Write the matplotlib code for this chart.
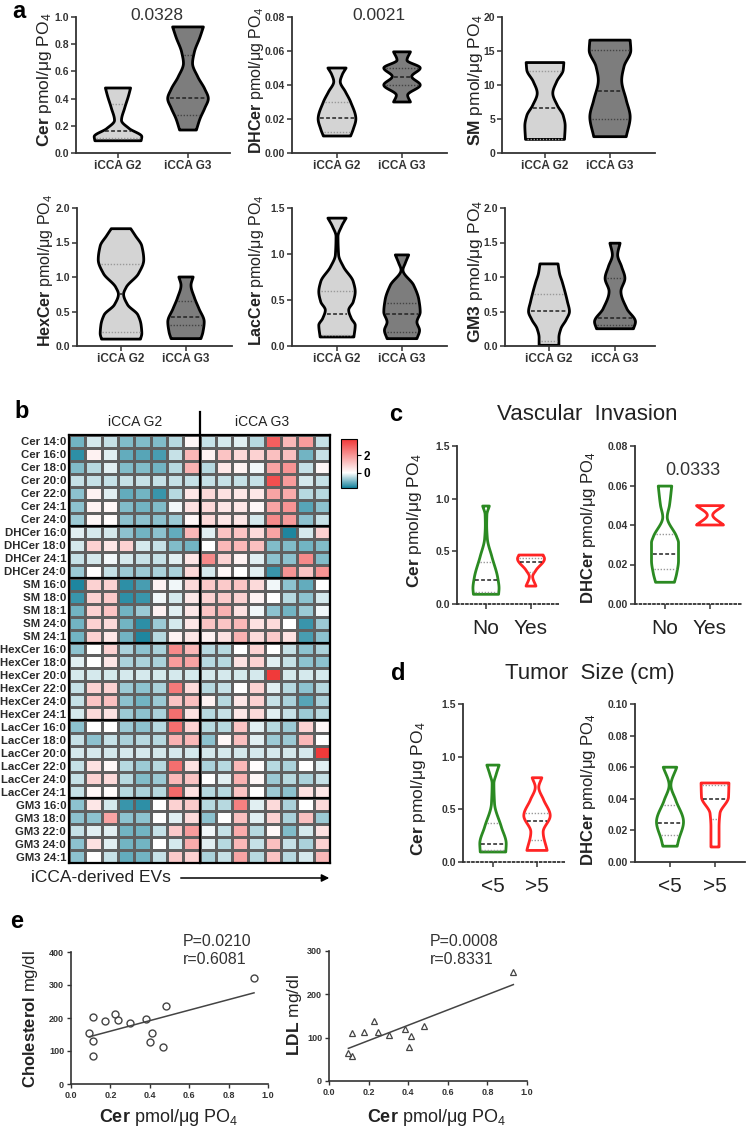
import numpy as np
import matplotlib
matplotlib.use("Agg")
import matplotlib.pyplot as plt
from matplotlib.colors import LinearSegmentedColormap, Normalize

plt.rcParams['font.family'] = ['Liberation Sans', 'DejaVu Sans']
plt.rcParams['mathtext.fontset'] = 'custom'
plt.rcParams['mathtext.rm'] = 'Liberation Sans'
plt.rcParams['mathtext.it'] = 'Liberation Sans:italic'
plt.rcParams['mathtext.bf'] = 'Liberation Sans:bold'

# ---------------- data ----------------
groups_a = ['iCCA G2', 'iCCA G3']
groups_vi = ['No', 'Yes']
groups_ts = ['<5', '>5']

# violin outlines: y levels and half widths (category units), lines = [median, q1, q3]
cer_g2_y = [0.478, 0.42, 0.33, 0.24, 0.18, 0.12, 0.09]
cer_g2_w = [0.18, 0.15, 0.095, 0.05, 0.16, 0.34, 0.33]
cer_g2_q = [0.164, 0.108, 0.357]
cer_g3_y = [0.927, 0.85, 0.74, 0.66, 0.56, 0.47, 0.40, 0.33, 0.25, 0.169]
cer_g3_w = [0.22, 0.17, 0.09, 0.065, 0.14, 0.24, 0.29, 0.24, 0.17, 0.12]
cer_g3_q = [0.401, 0.279, 0.72]

dhcer_g2_y = [0.050, 0.046, 0.042, 0.036, 0.030, 0.020, 0.014, 0.010]
dhcer_g2_w = [0.14, 0.08, 0.05, 0.13, 0.21, 0.29, 0.25, 0.21]
dhcer_g2_q = [0.0203, 0.0125, 0.0301]
dhcer_g3_y = [0.0595, 0.0546, 0.050, 0.045, 0.040, 0.034, 0.030]
dhcer_g3_w = [0.13, 0.077, 0.28, 0.15, 0.28, 0.087, 0.13]
dhcer_g3_q = [0.045, 0.040, 0.050]

sm_g2_y = [13.3, 12.2, 10.5, 8.8, 7.0, 5.5, 4.0, 2.0]
sm_g2_w = [0.29, 0.28, 0.18, 0.12, 0.19, 0.28, 0.31, 0.30]
sm_g2_q = [6.65, 2.1, 12.1]
sm_g3_y = [16.6, 15.1, 12.7, 10.7, 7.8, 5.3, 2.4]
sm_g3_w = [0.31, 0.32, 0.215, 0.18, 0.25, 0.31, 0.25]
sm_g3_q = [9.14, 4.99, 15.1]

hex_g2_y = [1.70, 1.60, 1.45, 1.25, 1.05, 0.85, 0.75, 0.60, 0.45, 0.30, 0.18, 0.10]
hex_g2_w = [0.15, 0.22, 0.32, 0.35, 0.27, 0.08, 0.04, 0.10, 0.26, 0.31, 0.32, 0.30]
hex_g2_q = [0.75, 0.204, 1.19]
hex_g3_y = [1.0, 0.88, 0.70, 0.54, 0.35, 0.20, 0.107]
hex_g3_w = [0.11, 0.077, 0.13, 0.20, 0.28, 0.26, 0.23]
hex_g3_q = [0.417, 0.30, 0.65]

lac_g2_y = [1.39, 1.30, 1.19, 0.99, 0.86, 0.70, 0.59, 0.48, 0.39, 0.30, 0.226, 0.098]
lac_g2_w = [0.14, 0.07, 0.015, 0.025, 0.10, 0.25, 0.28, 0.25, 0.18, 0.22, 0.28, 0.26]
lac_g2_q = [0.353, 0.116, 0.597]
lac_g3_y = [0.99, 0.90, 0.826, 0.66, 0.50, 0.37, 0.26, 0.17, 0.08]
lac_g3_w = [0.103, 0.05, 0.015, 0.18, 0.26, 0.28, 0.23, 0.27, 0.23]
lac_g3_q = [0.353, 0.153, 0.47]

gm3_g2_y = [1.19, 1.05, 0.93, 0.64, 0.50, 0.38, 0.25, 0.12, 0.01]
gm3_g2_w = [0.137, 0.16, 0.20, 0.28, 0.31, 0.26, 0.18, 0.15, 0.15]
gm3_g2_q = [0.505, 0.07, 0.75]
gm3_g3_y = [1.49, 1.32, 1.15, 0.98, 0.79, 0.54, 0.35, 0.25]
gm3_g3_w = [0.077, 0.04, 0.10, 0.15, 0.09, 0.18, 0.31, 0.28]
gm3_g3_q = [0.408, 0.30, 0.98]

vi_cer_no_y = [0.93, 0.85, 0.75, 0.62, 0.45, 0.25, 0.15, 0.092]
vi_cer_no_w = [0.074, 0.02, 0.015, 0.03, 0.13, 0.26, 0.29, 0.28]
vi_cer_no_q = [0.228, 0.11, 0.40]
vi_cer_yes_y = [0.465, 0.43, 0.32, 0.26, 0.17]
vi_cer_yes_w = [0.27, 0.30, 0.11, 0.037, 0.11]
vi_cer_yes_q = [0.40, 0.30, 0.44]
vi_dh_no_y = [0.0597, 0.050, 0.044, 0.034, 0.031, 0.022, 0.0155, 0.011]
vi_dh_no_w = [0.15, 0.10, 0.05, 0.26, 0.30, 0.30, 0.26, 0.21]
vi_dh_no_q = [0.0251, 0.0175, 0.0353]
vi_dh_yes_y = [0.0498, 0.045, 0.040]
vi_dh_yes_w = [0.30, 0.06, 0.30]
vi_dh_yes_q = []

ts_cer_lt_y = [0.92, 0.83, 0.745, 0.555, 0.333, 0.174, 0.095]
ts_cer_lt_w = [0.14, 0.07, 0.02, 0.035, 0.19, 0.30, 0.29]
ts_cer_lt_q = [0.174, 0.11, 0.37]
ts_cer_gt_y = [0.80, 0.71, 0.59, 0.44, 0.285, 0.11]
ts_cer_gt_w = [0.11, 0.04, 0.15, 0.30, 0.14, 0.23]
ts_cer_gt_q = [0.39, 0.206, 0.466]
ts_dh_lt_y = [0.060, 0.0486, 0.039, 0.0254, 0.0137, 0.010]
ts_dh_lt_w = [0.15, 0.02, 0.13, 0.30, 0.19, 0.16]
ts_dh_lt_q = [0.025, 0.017, 0.036]
ts_dh_gt_y = [0.050, 0.041, 0.0307, 0.022, 0.0095]
ts_dh_gt_w = [0.31, 0.30, 0.11, 0.09, 0.09]
ts_dh_gt_q = [0.040, 0.027, 0.049]

# heatmap (z-scores)
heat_rows = ['Cer 14:0', 'Cer 16:0', 'Cer 18:0', 'Cer 20:0', 'Cer 22:0', 'Cer 24:1', 'Cer 24:0',
             'DHCer 16:0', 'DHCer 18:0', 'DHCer 24:1', 'DHCer 24:0',
             'SM 16:0', 'SM 18:0', 'SM 18:1', 'SM 24:0', 'SM 24:1',
             'HexCer 16:0', 'HexCer 18:0', 'HexCer 20:0', 'HexCer 22:0', 'HexCer 24:0', 'HexCer 24:1',
             'LacCer 16:0', 'LacCer 18:0', 'LacCer 20:0', 'LacCer 22:0', 'LacCer 24:0', 'LacCer 24:1',
             'GM3 16:0', 'GM3 18:0', 'GM3 22:0', 'GM3 24:0', 'GM3 24:1']
heat_group_breaks = [7, 11, 16, 22, 28]
heat_values = [
    [-1.0, -0.3, -0.4, -0.9, -0.9, -0.9, -0.5, 0.15, -0.4, -0.3, -0.2, -0.5, 3.0, 1.35, 1.85, -0.4],
    [-1.5, 0.25, -0.2, -1.1, -1.2, -1.3, -0.4, 1.35, 0.25, 1.1, 0.7, 0.85, 1.2, 1.2, -1.0, -0.4],
    [-0.9, -0.5, -0.2, -0.9, -0.9, -1.0, -0.5, 1.45, -0.5, 0.45, 0.25, -0.1, 1.7, 2.0, -0.4, 0.15],
    [-0.4, -0.4, -0.4, -0.4, -0.4, -0.4, -0.4, -0.4, -0.4, -0.4, -0.4, -0.4, 3.3, 1.85, -0.3, -0.4],
    [-0.8, 0.25, -0.2, -1.1, -1.0, -1.4, -0.5, 0.45, 0.7, 0.55, 0.45, 0.45, 1.7, 1.55, -0.5, -0.5],
    [-0.8, 0.25, 0.15, -0.9, -1.0, -0.9, -0.1, 0.55, 0.7, 0.45, 0.45, 0.15, 1.7, 2.0, -1.2, -0.8],
    [-0.7, 0.15, 0.05, -0.8, -0.8, -0.8, -0.7, 0.15, 0.7, 0.45, 0.45, -0.3, 2.2, 1.85, -0.8, -0.4],
    [-0.2, -0.3, -0.3, -0.8, -1.0, -0.8, -1.1, 1.35, -0.2, 1.1, 1.1, 0.7, 1.7, -1.6, -0.3, 0.85],
    [-0.3, 0.85, 0.45, 0.85, -0.3, -0.4, -0.9, -1.0, 0.0, 1.35, 1.35, 1.2, -0.9, -0.9, -1.0, -0.9],
    [-0.4, -0.3, -0.1, -0.3, -0.4, -0.4, -0.2, 0.45, 2.2, 0.85, 0.25, -0.2, -0.8, -0.8, 2.2, -0.9],
    [-0.7, 0.0, -0.4, -0.7, -0.7, -0.6, -0.6, 0.7, -0.3, 0.15, 0.0, -0.2, -1.4, 2.0, 1.1, 2.0],
    [-1.6, 0.85, 0.85, -1.5, -1.3, 0.25, -0.1, 0.7, 1.0, 1.0, 1.1, 0.7, -0.1, -0.8, -1.1, 0.0],
    [-1.4, 0.85, 1.0, -1.5, -1.4, -0.1, -0.3, 0.45, 0.85, 1.0, 0.85, 0.25, 0.0, -0.5, -0.8, -0.3],
    [-1.0, 0.85, 1.1, -1.0, -0.7, 0.25, -0.2, 0.45, 1.1, 1.45, 0.55, -0.1, -0.8, -1.0, -0.7, -0.1],
    [-1.0, 0.85, 0.7, -1.0, -1.5, -0.7, -0.3, 0.45, 1.1, 1.1, 1.35, 0.55, 0.7, 0.0, -1.4, -0.7],
    [-1.0, 0.85, 0.45, -1.0, -1.6, -0.5, 0.25, 0.45, 0.25, 0.55, 1.45, 0.7, 1.0, 0.55, -1.3, -0.8],
    [-0.8, 0.0, 0.85, -0.6, -0.8, -0.6, 2.2, 1.35, -0.5, -0.5, 0.0, 0.85, 0.0, -0.4, -0.8, -0.6],
    [-0.2, 0.0, 0.45, -0.6, -0.6, -0.6, 1.85, 1.7, -0.5, -0.5, 0.55, 0.85, -0.2, -0.4, -0.8, -0.8],
    [-0.3, -0.3, -0.3, -0.3, -0.3, -0.3, -0.3, -0.3, -0.3, -0.3, -0.3, -0.3, 3.7, -0.3, -0.3, -0.3],
    [-0.4, 0.85, 0.85, -0.7, -0.8, -0.6, 2.5, 0.7, -0.5, -0.4, 0.0, 0.85, -0.2, -0.5, -0.8, -0.5],
    [-0.4, 1.1, 1.2, -0.8, -1.0, -0.7, 1.1, 1.2, 0.25, -0.5, 0.45, 0.85, -0.4, -0.6, -1.2, -0.6],
    [-0.3, 0.7, 0.55, -0.7, -0.8, -0.6, 2.7, 0.55, -0.5, -0.4, 0.45, 0.7, -0.2, -0.4, -0.7, -0.5],
    [-0.8, 0.0, 0.0, -0.7, -0.8, -0.5, 2.7, 0.85, -0.5, -0.5, 1.1, -0.2, -0.5, -0.7, 0.85, 0.15],
    [-0.4, -0.8, -0.4, -0.6, -0.5, -0.5, 1.45, 1.35, -0.8, 0.15, 1.2, -0.2, -0.7, -0.7, 1.35, 0.0],
    [-0.3, -0.3, -0.3, -0.3, -0.3, -0.3, -0.3, -0.3, -0.3, -0.3, -0.3, -0.3, -0.3, -0.3, -0.3, 3.7],
    [-0.4, 0.55, 0.15, -0.5, -0.7, -0.5, 2.7, 0.55, -0.6, -0.5, 1.35, 0.05, -0.5, -0.6, 0.0, -0.2],
    [-0.4, 0.85, 0.7, -0.5, -0.9, -0.7, 1.35, 1.1, 0.0, -0.2, 1.45, 0.15, -0.7, -0.5, -0.6, -0.4],
    [-0.4, 0.15, 0.05, -0.5, -0.6, -0.5, 2.8, 0.55, -0.5, -0.5, 1.1, 0.0, -0.7, -0.8, 0.55, 0.45],
    [-0.8, 0.45, -0.3, -1.4, -1.5, 0.0, 0.85, 1.0, -0.5, -0.5, 2.4, -0.2, 0.7, -0.6, 0.0, 0.7],
    [-0.8, -0.8, 1.7, -0.8, -0.8, 0.0, -0.2, 0.7, -0.8, 0.0, 1.2, -0.2, 0.85, -0.6, 1.2, -0.7],
    [-0.4, -0.2, -0.2, -1.0, -1.0, -0.4, 1.0, 1.85, -0.1, -0.4, 1.55, -0.5, 0.15, -0.9, -0.3, 0.55],
    [-0.8, 0.55, -0.2, -1.0, -1.0, 0.0, -0.3, 1.55, -0.2, -0.5, 1.35, -0.4, 1.2, -0.4, -0.6, 0.85],
    [-0.8, 0.0, -0.4, -1.1, -1.0, -0.4, 1.0, 0.85, -0.6, -0.4, 1.7, -0.5, 1.1, -0.5, -0.3, 1.35],
]
heat_vmin, heat_vmax = -1.7, 3.8

# correlations
chol_x = [0.093, 0.113, 0.113, 0.113, 0.172, 0.223, 0.240, 0.302, 0.380, 0.412, 0.400, 0.468, 0.480, 0.929]
chol_y = [155, 202, 131, 84, 192, 213, 193, 184, 198, 155, 127, 112, 236, 321]
ldl_x = [0.098, 0.118, 0.115, 0.177, 0.227, 0.246, 0.305, 0.384, 0.414, 0.404, 0.481, 0.931]
ldl_y = [65, 58, 110, 112, 139, 112, 107, 121, 104, 79, 127, 251]

# ---------------- helpers ----------------
W, H = 749, 1132
fig = plt.figure(figsize=(W / 100, H / 100), dpi=100)
TXT = '#333333'
GREEN, RED = '#2b8a22', '#ff2424'


def px_axes(l, r, t, b):
    return fig.add_axes([l / W, 1 - b / H, (r - l) / W, (b - t) / H])


def ftext(x, y, s, **kw):
    fig.text(x / W, 1 - y / H, s, **kw)


def pchip(xk, yk, x):
    # monotone cubic through the outline knots (rounded bulges and necks)
    h = np.diff(xk)
    d = np.diff(yk) / h
    m = np.zeros_like(yk)
    m[0], m[-1] = d[0], d[-1]
    for i in range(1, len(xk) - 1):
        if d[i - 1] * d[i] > 0:
            w1 = 2 * h[i] + h[i - 1]
            w2 = h[i] + 2 * h[i - 1]
            m[i] = (w1 + w2) / (w1 / d[i - 1] + w2 / d[i])
    idx = np.clip(np.searchsorted(xk, x) - 1, 0, len(xk) - 2)
    t = (x - xk[idx]) / h[idx]
    h00 = 2 * t ** 3 - 3 * t ** 2 + 1
    h10 = t ** 3 - 2 * t ** 2 + t
    h01 = -2 * t ** 3 + 3 * t ** 2
    h11 = t ** 3 - t ** 2
    return h00 * yk[idx] + h10 * h[idx] * m[idx] + h01 * yk[idx + 1] + h11 * h[idx] * m[idx + 1]


def draw_violin(ax, pos, ys, ws, q, face, edge, lw=2.0, medc='#222222', qc='#9a9a9a'):
    ys = np.asarray(ys, float)
    ws = np.asarray(ws, float)
    o = np.argsort(ys)
    yy = np.linspace(ys.min(), ys.max(), 400)
    ww = np.clip(pchip(ys[o], ws[o], yy), 0.008, None)
    x = np.concatenate([pos - ww, (pos + ww)[::-1]])
    y = np.concatenate([yy, yy[::-1]])
    ax.fill(x, y, facecolor=face, edgecolor=edge, lw=lw, joinstyle='round', zorder=2)
    for i, v in enumerate(q):
        w = max(np.interp(v, yy, ww) - 0.03, 0)
        if i == 0:
            ax.plot([pos - w, pos + w], [v, v], ls=(0, (2.5, 1.5)), color=medc, lw=1.1, zorder=3)
        else:
            ax.plot([pos - w, pos + w], [v, v], ls=(0, (1, 1.2)), color=qc, lw=1.0, zorder=3)


def violin_axes(box, ylim, yticks, fmt, xlabels, xfs, xbold, dotted=False):
    l, r, t, b, t0, t1 = box
    ax = px_axes(l, r, t, b)
    sc = t1 - t0
    ax.set_xlim((l - t0) / sc, (r - t0) / sc)
    ax.set_ylim(*ylim)
    for sp in ['top', 'right']:
        ax.spines[sp].set_visible(False)
    for sp in ['left', 'bottom']:
        ax.spines[sp].set_color(TXT)
        ax.spines[sp].set_linewidth(1.3)
    if dotted:
        ax.spines['bottom'].set_linestyle((0, (1, 1.5)))
    ax.set_yticks(yticks)
    ax.set_yticklabels([fmt.format(v) for v in yticks])
    ax.set_xticks([0, 1])
    ax.set_xticklabels(xlabels)
    ax.tick_params(axis='y', length=3.5, width=1.1, color=TXT, labelsize=7.5, pad=1.5, labelcolor=TXT)
    ax.tick_params(axis='x', length=3.5, width=1.1, color=TXT, labelsize=xfs, pad=1.5 if xbold else 7,
                   labelcolor='#222222' if not xbold else TXT)
    for lab in ax.get_yticklabels():
        lab.set_fontweight('bold')
    for lab in ax.get_xticklabels():
        lab.set_fontweight('bold' if xbold else 'normal')
    return ax


def ylab(x, y, name, size):
    ftext(x, y, r'$\mathbf{' + name + r'}$ pmol/μg PO$_4$', rotation=90, ha='center', va='center',
          fontsize=size, color='#222222')


LG, DG = '#d4d4d4', '#7d7d7d'

# ---------------- panel a ----------------
ax = violin_axes((76, 230, 17, 153, 118, 188), (0, 1.0), np.arange(0, 1.01, 0.2), '{:.1f}', groups_a, 8.5, True)
draw_violin(ax, 0, cer_g2_y, cer_g2_w, cer_g2_q, LG, 'black')
draw_violin(ax, 1, cer_g3_y, cer_g3_w, cer_g3_q, DG, 'black', qc='#444444')
ylab(44, 80, 'Cer', 12.5)
ftext(157, 15, '0.0328', ha='center', va='center', fontsize=12.5, color=TXT)

ax = violin_axes((292, 447, 17, 153, 337, 402), (0, 0.08), np.arange(0, 0.081, 0.02), '{:.2f}', groups_a, 8.5, True)
draw_violin(ax, 0, dhcer_g2_y, dhcer_g2_w, dhcer_g2_q, LG, 'black')
draw_violin(ax, 1, dhcer_g3_y, dhcer_g3_w, dhcer_g3_q, DG, 'black', qc='#444444')
ylab(256, 80, 'DHCer', 11.5)
ftext(379, 15, '0.0021', ha='center', va='center', fontsize=12.5, color=TXT)

ax = violin_axes((502, 655, 17, 153, 545, 610), (0, 20), np.arange(0, 21, 5), '{:d}', groups_a, 8.5, True)
ax.set_yticklabels(['0', '5', '10', '15', '20'], fontweight='bold')
draw_violin(ax, 0, sm_g2_y, sm_g2_w, sm_g2_q, LG, 'black')
draw_violin(ax, 1, sm_g3_y, sm_g3_w, sm_g3_q, DG, 'black', qc='#444444')
ylab(476, 80, 'SM', 12.5)

ax = violin_axes((77, 232, 208, 346, 121, 186), (0, 2.0), np.arange(0, 2.01, 0.5), '{:.1f}', groups_a, 8.5, True)
draw_violin(ax, 0, hex_g2_y, hex_g2_w, hex_g2_q, LG, 'black')
draw_violin(ax, 1, hex_g3_y, hex_g3_w, hex_g3_q, DG, 'black', qc='#444444')
ylab(46, 270, 'HexCer', 11.5)

ax = violin_axes((292, 447, 208, 346, 337, 402), (0, 1.5), np.arange(0, 1.51, 0.5), '{:.1f}', groups_a, 8.5, True)
draw_violin(ax, 0, lac_g2_y, lac_g2_w, lac_g2_q, LG, 'black')
draw_violin(ax, 1, lac_g3_y, lac_g3_w, lac_g3_q, DG, 'black', qc='#444444')
ylab(257, 270, 'LacCer', 11.5)

ax = violin_axes((505, 655, 208, 346, 549, 615), (0, 2.0), np.arange(0, 2.01, 0.5), '{:.1f}', groups_a, 8.5, True)
draw_violin(ax, 0, gm3_g2_y, gm3_g2_w, gm3_g2_q, LG, 'black')
draw_violin(ax, 1, gm3_g3_y, gm3_g3_w, gm3_g3_q, DG, 'black', qc='#444444')
ylab(475, 271, 'GM3', 12.5)

ftext(19, 12, 'a', ha='center', va='center', fontsize=17, fontweight='bold')

# ---------------- panel b: heatmap ----------------
hx = px_axes(69, 330, 435, 863)
frac0 = -heat_vmin / (heat_vmax - heat_vmin)
cmap = LinearSegmentedColormap.from_list('tw', [(0, '#12809a'), (frac0, '#ffffff'), (1, '#f03535')])
vals = np.array(heat_values)
mesh = hx.pcolormesh(vals, cmap=cmap, norm=Normalize(heat_vmin, heat_vmax),
                     edgecolors='#606060', linewidth=0.8)
hx.set_xlim(0, vals.shape[1])
hx.set_ylim(vals.shape[0], 0)
hx.set_xticks([])
hx.set_yticks(np.arange(len(heat_rows)) + 0.5)
hx.set_yticklabels(heat_rows, fontsize=8.2, fontweight='bold', color='#2a2a2a')
hx.tick_params(axis='y', length=0, pad=2)
for sp in hx.spines.values():
    sp.set_linewidth(1.6)
for br in heat_group_breaks:
    hx.axhline(br, color='black', lw=1.6)
hx.plot([8, 8], [vals.shape[0], -1.75], color='black', lw=1.6, clip_on=False)
ftext(135, 422, groups_a[0], ha='center', va='center', fontsize=10, color='#222222')
ftext(262, 422, groups_a[1], ha='center', va='center', fontsize=10, color='#222222')
ftext(22, 411, 'b', ha='center', va='center', fontsize=17, fontweight='bold')

cax = px_axes(341, 357, 439, 488)
cb = fig.colorbar(mesh, cax=cax, ticks=[0, 2])
cb.outline.set_linewidth(0.8)
cax.tick_params(labelsize=8.5, length=3, width=0.8, pad=2)
for lab in cax.get_yticklabels():
    lab.set_fontweight('bold')

ftext(101, 878, 'iCCA-derived EVs', ha='center', va='center', fontsize=12.5, color='#222222')
hx.annotate('', xy=(332 / W, 1 - 878 / H), xytext=(178 / W, 1 - 878 / H),
            xycoords='figure fraction', textcoords='figure fraction',
            arrowprops=dict(arrowstyle='-|>', color='black', lw=1.1, mutation_scale=11))

# ---------------- panel c ----------------
ftext(396, 415, 'c', ha='center', va='center', fontsize=17, fontweight='bold')
ftext(587, 415, 'Vascular  Invasion', ha='center', va='center', fontsize=16, color='#222222')
ax = violin_axes((457, 560, 446, 604, 486, 531), (0, 1.5), np.arange(0, 1.51, 0.5), '{:.1f}', groups_vi, 15, False, dotted=True)
draw_violin(ax, 0, vi_cer_no_y, vi_cer_no_w, vi_cer_no_q, 'white', GREEN)
draw_violin(ax, 1, vi_cer_yes_y, vi_cer_yes_w, vi_cer_yes_q, 'white', RED)
ylab(415, 521, 'Cer', 12.5)
ax = violin_axes((635, 742, 446, 604, 665, 710), (0, 0.08), np.arange(0, 0.081, 0.02), '{:.2f}', groups_vi, 15, False, dotted=True)
draw_violin(ax, 0, vi_dh_no_y, vi_dh_no_w, vi_dh_no_q, 'white', GREEN)
draw_violin(ax, 1, vi_dh_yes_y, vi_dh_yes_w, vi_dh_yes_q, 'white', RED)
ylab(588, 528, 'DHCer', 12)
ftext(693, 470, '0.0333', ha='center', va='center', fontsize=13, color=TXT)

# ---------------- panel d ----------------
ftext(398, 674, 'd', ha='center', va='center', fontsize=17, fontweight='bold')
ftext(590, 673, 'Tumor  Size (cm)', ha='center', va='center', fontsize=16, color='#222222')
ax = violin_axes((463, 565, 704, 862, 493, 537), (0, 1.5), np.arange(0, 1.51, 0.5), '{:.1f}', groups_ts, 15, False, dotted=True)
draw_violin(ax, 0, ts_cer_lt_y, ts_cer_lt_w, ts_cer_lt_q, 'white', GREEN)
draw_violin(ax, 1, ts_cer_gt_y, ts_cer_gt_w, ts_cer_gt_q, 'white', RED)
ylab(418, 789, 'Cer', 12.5)
ax = violin_axes((635, 745, 704, 862, 670, 715), (0, 0.10), np.arange(0, 0.101, 0.02), '{:.2f}', groups_ts, 15, False)
draw_violin(ax, 0, ts_dh_lt_y, ts_dh_lt_w, ts_dh_lt_q, 'white', GREEN)
draw_violin(ax, 1, ts_dh_gt_y, ts_dh_gt_w, ts_dh_gt_q, 'white', RED)
ylab(588, 790, 'DHCer', 12)

# ---------------- panel e ----------------
ftext(17, 922, 'e', ha='center', va='center', fontsize=17, fontweight='bold')


def scatter_axes(box, ymax, ystep):
    ax = px_axes(*box)
    ax.set_xlim(0, 1.0)
    ax.set_ylim(0, ymax)
    for sp in ['top', 'right']:
        ax.spines[sp].set_visible(False)
    for sp in ['left', 'bottom']:
        ax.spines[sp].set_color(TXT)
        ax.spines[sp].set_linewidth(1.2)
    ax.set_xticks(np.arange(0, 1.01, 0.2))
    ax.set_xticklabels(['{:.1f}'.format(v) for v in np.arange(0, 1.01, 0.2)])
    ax.set_yticks(np.arange(0, ymax + 1, ystep))
    ax.tick_params(length=3, width=1, color=TXT, labelsize=6.5, labelcolor=TXT, pad=2)
    for lab in ax.get_xticklabels() + ax.get_yticklabels():
        lab.set_fontweight('bold')
    return ax


ax = scatter_axes((71, 268, 952, 1084), 400, 100)
ax.plot(chol_x, chol_y, 'o', ms=5, mfc='none', mec='#444444', mew=1.0, clip_on=False)
m, c = np.polyfit(chol_x, chol_y, 1)
xx = np.array([min(chol_x), max(chol_x)])
ax.plot(xx, m * xx + c, color='#444444', lw=1.1)
ftext(183, 941, 'P=0.0210', ha='left', va='center', fontsize=11.5, color=TXT)
ftext(183, 959, 'r=0.6081', ha='left', va='center', fontsize=11.5, color=TXT)
ftext(30, 1019, r'$\mathbf{Cholesterol}$ mg/dl', rotation=90, ha='center', va='center', fontsize=12, color='#222222')
ftext(169, 1117, r'$\mathbf{Cer}$ pmol/μg PO$_4$', ha='center', va='center', fontsize=13, color='#222222')

ax = scatter_axes((329, 527, 951, 1081), 300, 100)
ax.plot(ldl_x, ldl_y, '^', ms=4.5, mfc='none', mec='#444444', mew=0.9, clip_on=False)
m, c = np.polyfit(ldl_x, ldl_y, 1)
xx = np.array([min(ldl_x), max(ldl_x)])
ax.plot(xx, m * xx + c, color='#444444', lw=1.1)
ftext(430, 941, 'P=0.0008', ha='left', va='center', fontsize=11.5, color=TXT)
ftext(430, 959, 'r=0.8331', ha='left', va='center', fontsize=11.5, color=TXT)
ftext(294, 1015, r'$\mathbf{LDL}$ mg/dl', rotation=90, ha='center', va='center', fontsize=12.5, color='#222222')
ftext(437, 1117, r'$\mathbf{Cer}$ pmol/μg PO$_4$', ha='center', va='center', fontsize=13, color='#222222')

fig.savefig('out.png', dpi=100)
